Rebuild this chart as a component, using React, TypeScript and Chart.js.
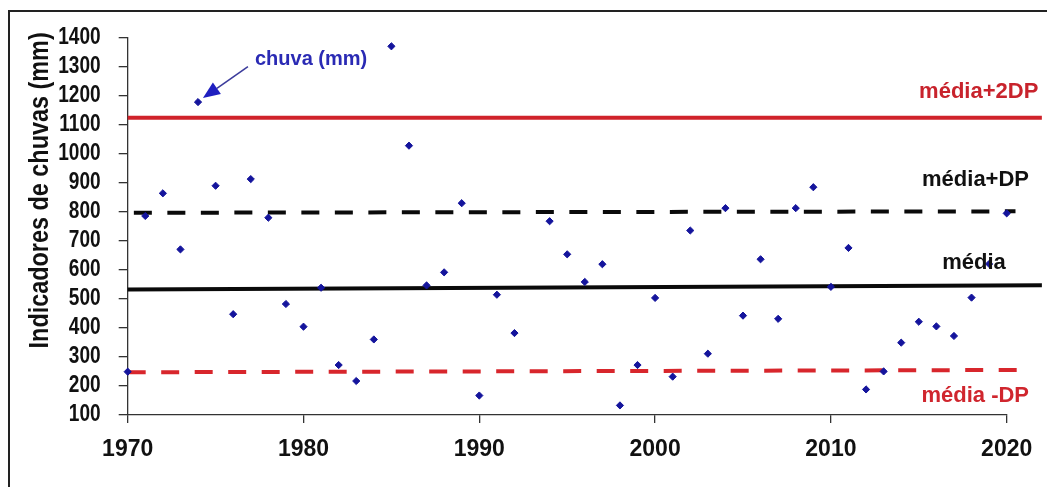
import React, { useEffect, useRef } from 'react';
import { Chart, registerables } from 'chart.js';

Chart.register(...registerables);

// ---- data ----
const years: number[] = [
  1970, 1971, 1972, 1973, 1974, 1975, 1976, 1977, 1978, 1979,
  1980, 1981, 1982, 1983, 1984, 1985, 1986, 1987, 1988, 1989,
  1990, 1991, 1992, 1993, 1994, 1995, 1996, 1997, 1998, 1999,
  2000, 2001, 2002, 2003, 2004, 2005, 2006, 2007, 2008, 2009,
  2010, 2011, 2012, 2013, 2014, 2015, 2016, 2017, 2018, 2019, 2020,
];
const chuva: (number | null)[] = [
  249, 785, 863, 670, 1177, 889, 447, 912, 779, 482,
  404, 538, 272, 217, 360, 1369, 1027, 546, 591, 829,
  167, 514, 382, null, 767, 653, 558, 619, 133, 272,
  503, 232, 735, 311, 812, 442, 636, 431, 812, 884,
  541, 675, 188, 250, 349, 421, 405, 372, 504, 620, 794,
];

const solidLineX: number[] = [1970, 2022];
const mediaMais2DP: number[] = [1123, 1123];
const media: number[] = [532, 547];

const dashPlusX: number[] = [1970.35, 2020.5];
const mediaMaisDP: number[] = [796, 801];

const dashMinusX: number[] = [1970, 2021];
const mediaMenosDP: number[] = [247, 255];

const xTicks: number[] = [1970, 1980, 1990, 2000, 2010, 2020];
const yTicks: number[] = [100, 200, 300, 400, 500, 600, 700, 800, 900, 1000, 1100, 1200, 1300, 1400];

const lineLabels: string[] = ['média+2DP', 'média+DP', 'média', 'média -DP'];
const seriesLabel = 'chuva (mm)';
const yTitle = 'Indicadores de chuvas (mm)';

// ---- styling / annotation placement (data units) ----
const LABEL_FONT = 'bold 22px "Liberation Sans", Arial, sans-serif';
const labelPlacement = [
  { x: 2021.8, y: 1190, color: '#c8232c' },
  { x: 2021.27, y: 888, color: '#111111' },
  { x: 2019.95, y: 601, color: '#111111' },
  { x: 2021.27, y: 146, color: '#d0262e' },
];

const Y_TICK_LEN = 9;
const Y_TICK_PAD = 18;
const Y_LABEL_SQUEEZE = 0.83;
const Y_TITLE_SQUEEZE = 0.836;

const narrowAxisPlugin = {
  id: 'narrowAxis',
  beforeDraw(chart: any) {
    const ys = chart.scales.y;
    if (!ys || ys.__narrow) return;
    const dl = ys.drawLabels;
    ys.drawLabels = function (area: any) {
      const ctx = this.ctx;
      const ax = this.right - Y_TICK_LEN - Y_TICK_PAD;
      ctx.save();
      ctx.translate(ax, 0);
      ctx.scale(Y_LABEL_SQUEEZE, 1);
      ctx.translate(-ax, 0);
      dl.call(this, area);
      ctx.restore();
    };
    const dt = ys.drawTitle;
    ys.drawTitle = function () {
      const ctx = this.ctx;
      const ay = this.top;
      ctx.save();
      ctx.translate(0, ay - 5);
      ctx.scale(1, Y_TITLE_SQUEEZE);
      ctx.translate(0, -ay);
      dt.call(this);
      ctx.restore();
    };
    ys.__narrow = true;
  },
};

const annotationPlugin = {
  id: 'lineAnnotations',
  afterDatasetsDraw(chart: any) {
    const { ctx, scales } = chart;
    const xs = scales.x;
    const ys = scales.y;
    ctx.save();
    ctx.font = LABEL_FONT;
    ctx.textAlign = 'right';
    ctx.textBaseline = 'alphabetic';
    lineLabels.forEach((t, i) => {
      const p = labelPlacement[i];
      ctx.fillStyle = p.color;
      ctx.fillText(t, xs.getPixelForValue(p.x), ys.getPixelForValue(p.y));
    });

    // series label with arrow
    ctx.font = 'bold 20px "Liberation Sans", Arial, sans-serif';
    ctx.textAlign = 'left';
    ctx.fillStyle = '#2a2ab4';
    ctx.fillText(seriesLabel, xs.getPixelForValue(1977.24), ys.getPixelForValue(1305));

    const sx = xs.getPixelForValue(1976.84);
    const sy = ys.getPixelForValue(1299);
    const tx = xs.getPixelForValue(1974.28);
    const ty = ys.getPixelForValue(1191);
    const ang = Math.atan2(ty - sy, tx - sx);
    const headLen = 17;
    const headHalf = 7;
    const bx = tx - Math.cos(ang) * headLen;
    const by = ty - Math.sin(ang) * headLen;
    ctx.strokeStyle = '#3c3c9c';
    ctx.lineWidth = 1.6;
    ctx.beginPath();
    ctx.moveTo(sx, sy);
    ctx.lineTo(bx, by);
    ctx.stroke();
    ctx.fillStyle = '#1f1fc0';
    ctx.beginPath();
    ctx.moveTo(tx, ty);
    ctx.lineTo(bx + Math.sin(ang) * headHalf, by - Math.cos(ang) * headHalf);
    ctx.lineTo(bx - Math.sin(ang) * headHalf, by + Math.cos(ang) * headHalf);
    ctx.closePath();
    ctx.fill();
    ctx.restore();
  },
};

const toPts = (xs: number[], ys: (number | null)[]) => xs.map((x, i) => ({ x, y: ys[i] }));

export default function App() {
  const ref = useRef<HTMLCanvasElement>(null);

  useEffect(() => {
    if (!ref.current) return;
    const chart = new Chart(ref.current, {
      type: 'scatter',
      data: {
        datasets: [
          {
            label: seriesLabel,
            data: toPts(years, chuva) as any,
            pointStyle: 'rectRot',
            pointRadius: 3.6,
            pointBackgroundColor: '#14149c',
            pointBorderColor: '#14149c',
            pointBorderWidth: 1,
            showLine: false,
            clip: false as any,
          },
          {
            label: lineLabels[0],
            data: toPts(solidLineX, mediaMais2DP) as any,
            showLine: true,
            borderColor: '#d0222a',
            borderWidth: 4,
            pointRadius: 0,
            clip: false as any,
          },
          {
            label: lineLabels[1],
            data: toPts(dashPlusX, mediaMaisDP) as any,
            showLine: true,
            borderColor: '#0a0a0a',
            borderWidth: 4,
            borderDash: [18, 15.5],
            pointRadius: 0,
            clip: false as any,
          },
          {
            label: lineLabels[2],
            data: toPts(solidLineX, media) as any,
            showLine: true,
            borderColor: '#0a0a0a',
            borderWidth: 4,
            pointRadius: 0,
            clip: false as any,
          },
          {
            label: lineLabels[3],
            data: toPts(dashMinusX, mediaMenosDP) as any,
            showLine: true,
            borderColor: '#d8262c',
            borderWidth: 4,
            borderDash: [18, 15.5],
            pointRadius: 0,
            clip: false as any,
          },
        ],
      },
      options: {
        animation: false,
        responsive: true,
        maintainAspectRatio: false,
        layout: { padding: { top: 25.3, right: 40.3, bottom: 22, left: 0 } },
        plugins: {
          legend: { display: false },
          tooltip: { enabled: false },
        },
        scales: {
          x: {
            type: 'linear',
            min: 1970,
            max: 2020,
            afterBuildTicks: (s: any) => {
              s.ticks = xTicks.map((v) => ({ value: v }));
            },
            afterFit: (s: any) => {
              s.height = 50;
            },
            ticks: {
              padding: 13,
              color: '#111',
              autoSkip: false,
              font: { family: '"Liberation Sans", Arial, sans-serif', size: 23, weight: 'bold' },
              callback: (v: any) => String(v),
              maxRotation: 0,
            },
            grid: { drawOnChartArea: false, drawTicks: true, tickLength: 8, color: '#333', lineWidth: 1.3 },
            border: { color: '#333', width: 1.3 },
          },
          y: {
            type: 'linear',
            min: 100,
            max: 1400,
            afterBuildTicks: (s: any) => {
              s.ticks = yTicks.map((v) => ({ value: v }));
            },
            afterFit: (s: any) => {
              s.width = 117.7;
              s.paddingTop = 8;
              s.paddingBottom = 8;
            },
            ticks: {
              padding: Y_TICK_PAD,
              color: '#111',
              autoSkip: false,
              font: { family: '"Liberation Sans", Arial, sans-serif', size: 23, weight: 'bold' },
              callback: (v: any) => String(v),
            },
            grid: { drawOnChartArea: false, drawTicks: true, tickLength: Y_TICK_LEN, color: '#333', lineWidth: 1.3 },
            border: { color: '#333', width: 1.3 },
            title: {
              display: true,
              text: yTitle,
              align: 'end',
              color: '#111',
              padding: { top: 13, bottom: 0 },
              font: { family: '"Liberation Sans", Arial, sans-serif', size: 28, weight: 'bold' },
            },
          },
        },
      },
      plugins: [narrowAxisPlugin, annotationPlugin],
    });
    return () => chart.destroy();
  }, []);

  return (
    <div style={{ paddingTop: 2 }}>
      <div style={{ borderTop: '2px solid #222', borderLeft: '2px solid #222', width: 1037, height: 475 }}>
        <div style={{ position: 'relative', width: 1037, height: 475 }}>
          <canvas ref={ref} />
        </div>
      </div>
    </div>
  );
}
